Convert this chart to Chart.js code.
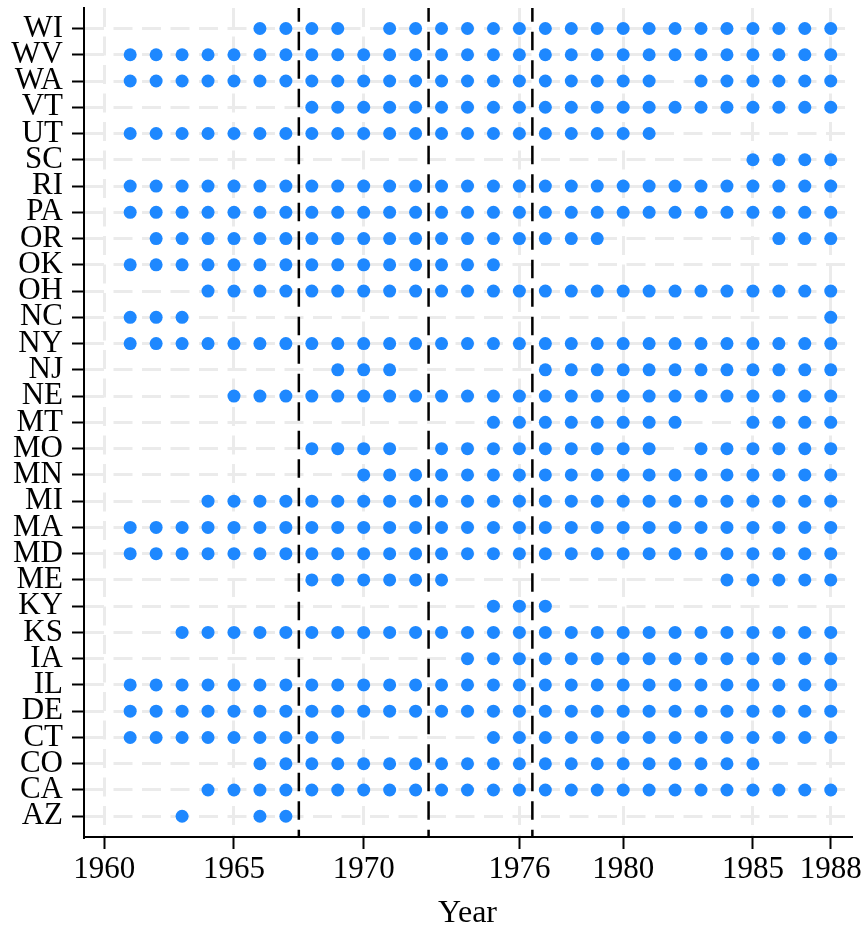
<!DOCTYPE html>
<html>
<head>
<meta charset="utf-8">
<script src="https://cdn.jsdelivr.net/npm/chart.js@4.4.1/dist/chart.umd.min.js"></script>
<style>
  html, body { margin: 0; padding: 0; background: #ffffff; }
  #wrap { width: 867px; height: 931px; }
</style>
</head>
<body>
<div id="wrap"><canvas id="chart" width="867" height="931"></canvas></div>
<script>
// States from bottom (AZ) to top (WI)
const states = ['AZ','CA','CO','CT','DE','IL','IA','KS','KY','ME','MD','MA','MI','MN','MO','MT',
                'NE','NJ','NY','NC','OH','OK','OR','PA','RI','SC','UT','VT','WA','WV','WI'];

// Years with an observation, one list per state (same order as `states`)
const stateYears = [
  /* AZ */ [1963,1966,1967],
  /* CA */ [1964,1965,1966,1967,1968,1969,1970,1971,1972,1973,1974,1975,1976,1977,1978,1979,1980,1981,1982,1983,1984,1985,1986,1987,1988],
  /* CO */ [1966,1967,1968,1969,1970,1971,1972,1973,1974,1975,1976,1977,1978,1979,1980,1981,1982,1983,1984,1985],
  /* CT */ [1961,1962,1963,1964,1965,1966,1967,1968,1969,1975,1976,1977,1978,1979,1980,1981,1982,1983,1984,1985,1986,1987,1988],
  /* DE */ [1961,1962,1963,1964,1965,1966,1967,1968,1969,1970,1971,1972,1973,1974,1975,1976,1977,1978,1979,1980,1981,1982,1983,1984,1985,1986,1987,1988],
  /* IL */ [1961,1962,1963,1964,1965,1966,1967,1968,1969,1970,1971,1972,1973,1974,1975,1976,1977,1978,1979,1980,1981,1982,1983,1984,1985,1986,1987,1988],
  /* IA */ [1974,1975,1976,1977,1978,1979,1980,1981,1982,1983,1984,1985,1986,1987,1988],
  /* KS */ [1963,1964,1965,1966,1967,1968,1969,1970,1971,1972,1973,1974,1975,1976,1977,1978,1979,1980,1981,1982,1983,1984,1985,1986,1987,1988],
  /* KY */ [1975,1976,1977],
  /* ME */ [1968,1969,1970,1971,1972,1973,1984,1985,1986,1987,1988],
  /* MD */ [1961,1962,1963,1964,1965,1966,1967,1968,1969,1970,1971,1972,1973,1974,1975,1976,1977,1978,1979,1980,1981,1982,1983,1984,1985,1986,1987,1988],
  /* MA */ [1961,1962,1963,1964,1965,1966,1967,1968,1969,1970,1971,1972,1973,1974,1975,1976,1977,1978,1979,1980,1981,1982,1983,1984,1985,1986,1987,1988],
  /* MI */ [1964,1965,1966,1967,1968,1969,1970,1971,1972,1973,1974,1975,1976,1977,1978,1979,1980,1981,1982,1983,1984,1985,1986,1987,1988],
  /* MN */ [1970,1971,1972,1973,1974,1975,1976,1977,1978,1979,1980,1981,1982,1983,1984,1985,1986,1987,1988],
  /* MO */ [1968,1969,1970,1971,1973,1974,1975,1976,1977,1978,1979,1980,1981,1983,1984,1985,1986,1987,1988],
  /* MT */ [1975,1976,1977,1978,1979,1980,1981,1982,1985,1986,1987,1988],
  /* NE */ [1965,1966,1967,1968,1969,1970,1971,1972,1973,1974,1975,1976,1977,1978,1979,1980,1981,1982,1983,1984,1985,1986,1987,1988],
  /* NJ */ [1969,1970,1971,1977,1978,1979,1980,1981,1982,1983,1984,1985,1986,1987,1988],
  /* NY */ [1961,1962,1963,1964,1965,1966,1967,1968,1969,1970,1971,1972,1973,1974,1975,1976,1977,1978,1979,1980,1981,1982,1983,1984,1985,1986,1987,1988],
  /* NC */ [1961,1962,1963,1988],
  /* OH */ [1964,1965,1966,1967,1968,1969,1970,1971,1972,1973,1974,1975,1976,1977,1978,1979,1980,1981,1982,1983,1984,1985,1986,1987,1988],
  /* OK */ [1961,1962,1963,1964,1965,1966,1967,1968,1969,1970,1971,1972,1973,1974,1975],
  /* OR */ [1962,1963,1964,1965,1966,1967,1968,1969,1970,1971,1972,1973,1974,1975,1976,1977,1978,1979,1986,1987,1988],
  /* PA */ [1961,1962,1963,1964,1965,1966,1967,1968,1969,1970,1971,1972,1973,1974,1975,1976,1977,1978,1979,1980,1981,1982,1983,1984,1985,1986,1987,1988],
  /* RI */ [1961,1962,1963,1964,1965,1966,1967,1968,1969,1970,1971,1972,1973,1974,1975,1976,1977,1978,1979,1980,1981,1982,1983,1984,1985,1986,1987,1988],
  /* SC */ [1985,1986,1987,1988],
  /* UT */ [1961,1962,1963,1964,1965,1966,1967,1968,1969,1970,1971,1972,1973,1974,1975,1976,1977,1978,1979,1980,1981],
  /* VT */ [1968,1969,1970,1971,1972,1973,1974,1975,1976,1977,1978,1979,1980,1981,1982,1983,1984,1985,1986,1987,1988],
  /* WA */ [1961,1962,1963,1964,1965,1966,1967,1968,1969,1970,1971,1972,1973,1974,1975,1976,1977,1978,1979,1980,1981,1983,1984,1985,1986,1987,1988],
  /* WV */ [1961,1962,1963,1964,1965,1966,1967,1968,1969,1970,1971,1972,1973,1974,1975,1976,1977,1978,1979,1980,1981,1982,1983,1984,1985,1986,1987,1988],
  /* WI */ [1966,1967,1968,1969,1971,1972,1973,1974,1975,1976,1977,1978,1979,1980,1981,1982,1983,1984,1985,1986,1987,1988]
];

// Labelled years on the x axis
const yearTicks = [1960, 1965, 1970, 1976, 1980, 1985, 1988];

// Period boundaries marked with dashed vertical lines
const breakYears = [1967.5, 1972.5, 1976.5];

const xRange = [1959.22, 1988.78];
const yRange = [-0.79, 30.78];

const points = [];
stateYears.forEach((yrs, i) => yrs.forEach(yr => points.push({ x: yr, y: i })));

const FONT = "'Liberation Serif', 'Times New Roman', serif";
const GRID = '#ebebeb';
const DASH = [19, 9.5];

const breakLines = {
  id: 'breakLines',
  afterDatasetsDraw(chart) {
    const { ctx, chartArea, scales } = chart;
    ctx.save();
    ctx.strokeStyle = '#000000';
    ctx.lineWidth = 2.5;
    ctx.setLineDash([18.5, 10]);
    ctx.lineDashOffset = 4.8;
    breakYears.forEach(v => {
      const px = scales.x.getPixelForValue(v);
      ctx.beginPath();
      ctx.moveTo(px, chartArea.top);
      ctx.lineTo(px, chartArea.bottom);
      ctx.stroke();
    });
    ctx.restore();
  }
};

// fixed axis box sizes, no extra room for overhanging tick labels
const fixBox = size => s => {
  if (s.isHorizontal()) { s.height = size; } else { s.width = size; }
  s.paddingTop = 0; s.paddingBottom = 0; s.paddingLeft = 0; s.paddingRight = 0;
};

new Chart(document.getElementById('chart'), {
  type: 'scatter',
  data: {
    datasets: [{
      data: points,
      backgroundColor: '#1e88ff',
      borderWidth: 0,
      pointRadius: 6.5,
      pointHoverRadius: 6.5
    }]
  },
  options: {
    responsive: false,
    animation: false,
    events: [],
    layout: { padding: { top: 8, right: 16, left: 0, bottom: 0 } },
    plugins: { legend: { display: false }, tooltip: { enabled: false } },
    scales: {
      x: {
        type: 'linear',
        min: xRange[0],
        max: xRange[1],
        afterBuildTicks: s => { s.ticks = yearTicks.map(v => ({ value: v })); },
        afterFit: fixBox(94),
        ticks: {
          color: '#000000',
          font: { family: FONT, size: 31 },
          padding: 2,
          maxRotation: 0,
          autoSkip: false,
          callback: v => String(v)
        },
        grid: {
          color: GRID,
          lineWidth: 3,
          drawTicks: true,
          tickLength: 12,
          tickColor: '#000000',
          tickWidth: 2
        },
        border: { display: true, color: '#000000', width: 2, dash: DASH, dashOffset: 0 },
        title: {
          display: true,
          text: 'Year',
          color: '#000000',
          font: { family: FONT, size: 32, lineHeight: 1 },
          padding: { top: 0, bottom: 1 }
        }
      },
      y: {
        type: 'linear',
        min: yRange[0],
        max: yRange[1],
        afterBuildTicks: s => { s.ticks = states.map((_, i) => ({ value: i })); },
        afterFit: fixBox(84),
        ticks: {
          color: '#000000',
          font: { family: FONT, size: 31 },
          padding: 9,
          autoSkip: false,
          callback: v => states[v]
        },
        grid: {
          color: GRID,
          lineWidth: 3,
          drawTicks: true,
          tickLength: 12,
          tickColor: '#000000',
          tickWidth: 2
        },
        border: { display: true, color: '#000000', width: 2, dash: DASH, dashOffset: 0 }
      }
    }
  },
  plugins: [breakLines]
});
</script>
</body>
</html>
